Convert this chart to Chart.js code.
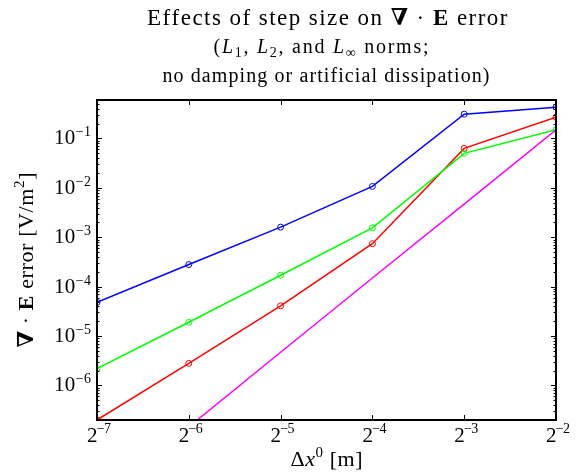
<!DOCTYPE html>
<html>
<head>
<meta charset="utf-8">
<script src="https://cdn.jsdelivr.net/npm/chart.js@4.4.1/dist/chart.umd.min.js"></script>
<style>
  html, body { margin: 0; padding: 0; background: #fff; }
</style>
</head>
<body>
<canvas id="chart" width="576" height="476"></canvas>
<script>
// step sizes 2^-7 .. 2^-2
const stepSizes = [0.0078125, 0.015625, 0.03125, 0.0625, 0.125, 0.25];
const xTickExps = [-7, -6, -5, -4, -3, -2];
const yTickExps = [-6, -5, -4, -3, -2, -1];

// errors
const errLinf = [4.8e-5, 2.8e-4, 1.6e-3, 1.07e-2, 0.31, 0.43];
const errL2 = [2.2e-6, 1.9e-5, 1.7e-4, 1.55e-3, 0.05, 0.15];
const errL1 = [2.0e-7, 2.8e-6, 4.1e-5, 7.4e-4, 0.063, 0.27];
const refLine = [4.5e-9, 1.45e-7, 4.7e-6, 1.5e-4, 4.7e-3, 0.15];

const SERIF = '"Liberation Serif", "DejaVu Serif", serif';
const f = (size, style) => (style ? style + ' ' : '') + size + 'px ' + SERIF;

// draw a row of text pieces with their own fonts / vertical offsets,
// optionally spread out to a given width (the original used a wide TeX font)
function drawRuns(ctx, runs, x, y, align, width) {
  let total = 0, chars = 0;
  runs.forEach(r => { ctx.font = r[1]; total += ctx.measureText(r[0]).width; chars += [...r[0]].length; });
  let sp = 0;
  if (width && chars > 1) {
    sp = (width - total) / (chars - 1);
    total = width;
  }
  let cx = align === 'center' ? x - total / 2 : (align === 'right' ? x - total : x);
  runs.forEach(r => {
    ctx.font = r[1];
    for (const ch of r[0]) {
      ctx.fillText(ch, cx, y + (r[2] || 0));
      cx += ctx.measureText(ch).width + sp;
    }
  });
}

const axesPlugin = {
  id: 'axesPlugin',
  afterDraw(chart) {
    const ctx = chart.ctx;
    const xs = chart.scales.x;
    const ys = chart.scales.y;
    const a = chart.chartArea;
    ctx.save();
    ctx.fillStyle = '#000';
    ctx.strokeStyle = '#000';
    ctx.textAlign = 'left';
    ctx.textBaseline = 'alphabetic';

    // tick marks
    ctx.lineWidth = 1;
    ctx.beginPath();
    for (let e = -8; e <= 0; e++) {
      for (let k = 1; k <= 9; k++) {
        const v = k * Math.pow(10, e);
        if (v < ys.min || v > ys.max) continue;
        const py = Math.round(ys.getPixelForValue(v)) + 0.5;
        const len = k === 1 ? 5 : 2.5;
        ctx.moveTo(a.left, py); ctx.lineTo(a.left + len, py);
        ctx.moveTo(a.right, py); ctx.lineTo(a.right - len, py);
      }
    }
    xTickExps.forEach(e => {
      const px = Math.round(xs.getPixelForValue(Math.pow(2, e))) + 0.5;
      ctx.moveTo(px, a.bottom); ctx.lineTo(px, a.bottom - 5);
      ctx.moveTo(px, a.top); ctx.lineTo(px, a.top + 5);
    });
    ctx.stroke();

    // frame
    ctx.lineWidth = 2;
    ctx.strokeRect(a.left, a.top, a.right - a.left, a.bottom - a.top);

    // y tick labels
    yTickExps.forEach(e => {
      const py = ys.getPixelForValue(Math.pow(10, e));
      drawRuns(ctx, [['10', f(21)], ['\u2212' + Math.abs(e), f(14), -8]], a.left - 6, py + 6, 'right', 37);
    });
    // x tick labels
    xTickExps.forEach(e => {
      const px = xs.getPixelForValue(Math.pow(2, e));
      drawRuns(ctx, [['2', f(21)], ['\u2212' + Math.abs(e), f(14), -9]], px + 2, a.bottom + 22, 'center', 24);
    });

    // title and subtitle
    drawRuns(ctx, [
      ['Effects of step size on ', f(23)], ['\u2207', f(23, 'bold')], [' \u00b7 ', f(23)],
      ['E', f(23, 'bold')], [' error', f(23)]
    ], 327, 25, 'center', 360);
    drawRuns(ctx, [
      ['(', f(20)], ['L', f(20, 'italic')], ['1', f(14), 4], [', ', f(20)],
      ['L', f(20, 'italic')], ['2', f(14), 4], [', and ', f(20)],
      ['L', f(20, 'italic')], ['\u221e', f(14), 4], [' norms;', f(20)]
    ], 321, 53, 'center', 215);
    drawRuns(ctx, [['no damping or artificial dissipation)', f(20)]], 326, 82, 'center', 327);

    // x axis title
    drawRuns(ctx, [
      ['\u0394', f(22)], ['x', f(22, 'italic')], ['0', f(15), -9], [' [m]', f(22)]
    ], (a.left + a.right) / 2, 466, 'center', 72);

    // y axis title
    ctx.translate(33, (a.top + a.bottom) / 2);
    ctx.rotate(-Math.PI / 2);
    drawRuns(ctx, [
      ['\u2207', f(22, 'bold')], [' \u00b7 ', f(22)], ['E', f(22, 'bold')],
      [' error [V/m', f(22)], ['2', f(15), -9], [']', f(22)]
    ], 0, 0, 'center', 175);
    ctx.restore();
  }
};

function series(vals, color, radius) {
  return {
    data: stepSizes.map((x, i) => ({ x: x, y: vals[i] })),
    borderColor: color,
    borderWidth: 1.5,
    pointRadius: radius,
    pointBorderWidth: 1,
    pointBorderColor: color,
    pointBackgroundColor: 'rgba(0,0,0,0)',
    tension: 0,
    fill: false
  };
}

new Chart(document.getElementById('chart'), {
  type: 'line',
  data: {
    datasets: [
      series(refLine, '#ff00ff', 0),
      series(errL2, '#00ff00', 3),
      series(errL1, '#ff0000', 3),
      series(errLinf, '#0000ff', 3)
    ]
  },
  options: {
    responsive: false,
    animation: false,
    layout: { padding: { top: 100, right: 20, left: 0, bottom: 0 } },
    plugins: { legend: { display: false }, tooltip: { enabled: false } },
    scales: {
      x: {
        type: 'logarithmic', min: Math.pow(2, -7), max: Math.pow(2, -2), bounds: 'data',
        grid: { display: false }, border: { display: false }, ticks: { display: false },
        afterFit: s => { s.height = 56; }
      },
      y: {
        type: 'logarithmic', min: 2e-7, max: 0.6, bounds: 'data',
        grid: { display: false }, border: { display: false }, ticks: { display: false },
        afterFit: s => { s.width = 97; }
      }
    }
  },
  plugins: [axesPlugin]
});
</script>
</body>
</html>
